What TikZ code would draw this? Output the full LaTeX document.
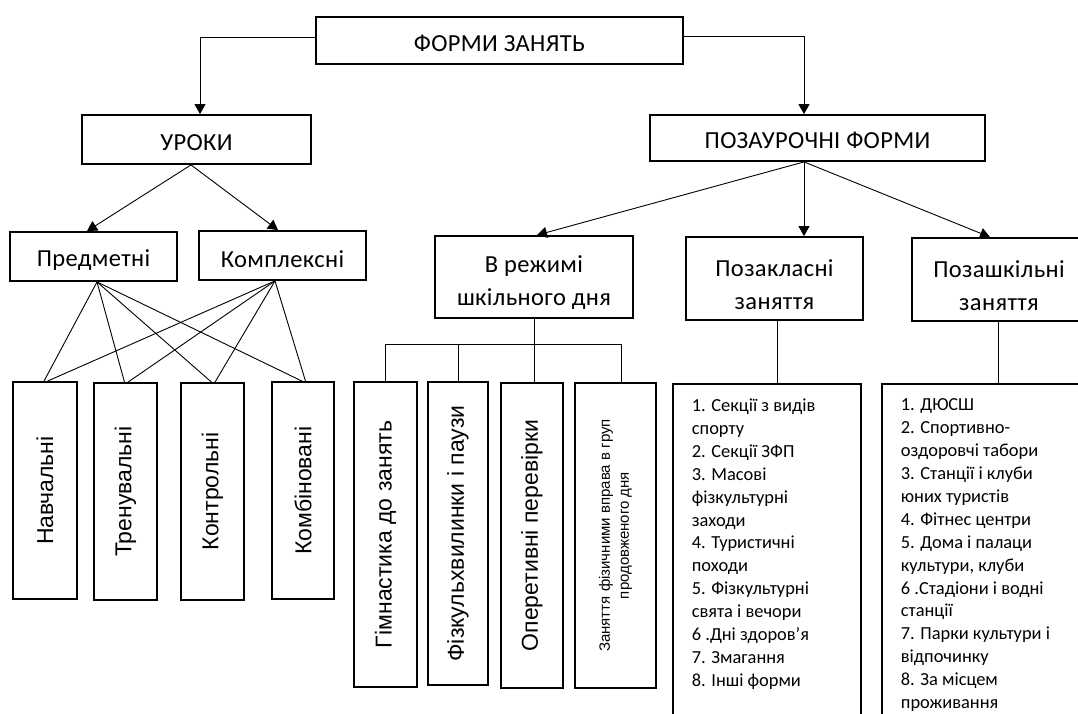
\documentclass[tikz,border=0pt]{standalone}
\usepackage{fontspec}
\setmainfont{Carlito}
\newfontfamily\labfont[LetterSpace=1.5]{Carlito}
\newfontfamily\arfont{Liberation Sans}
\usetikzlibrary{arrows.meta,calc}
\newcommand{\lowr}[1]{\rule{0pt}{#1}}
\begin{document}
\begin{tikzpicture}[x=1pt,y=-1pt,
  box/.style={draw,line width=1.8pt,inner sep=0pt,align=center},
  lab/.style={box,font=\labfont\fontsize{24.5}{33}\selectfont},
  vbox/.style={box,font=\arfont\fontsize{23}{27}\selectfont},
  listbox/.style={draw,line width=1.8pt,anchor=north west,inner xsep=19pt,inner ysep=15pt,
    font=\fontsize{18.4}{22.9}\selectfont},
  conn/.style={line width=0.9pt},
  arr/.style={conn,-{Triangle[length=10pt,width=11pt]}},
]
\useasboundingbox (0,0) rectangle (1078,713);
\fill[white] (0,0) rectangle (1078,713);

% top level
\node[lab,minimum width=367pt,minimum height=47pt] (forms) at (499.5,40.5) {\lowr{22pt}ФОРМИ ЗАНЯТЬ};
\node[lab,minimum width=229pt,minimum height=49pt] (uroky) at (196.5,139.5) {\lowr{22pt}УРОКИ};
\node[lab,minimum width=335pt,minimum height=46pt] (poz) at (817.5,138) {\lowr{22pt}ПОЗАУРОЧНІ ФОРМИ};

% second level
\node[lab,minimum width=167pt,minimum height=49pt] (predm) at (93.5,256.5) {\lowr{24pt}Предметні};
\node[lab,minimum width=167pt,minimum height=49pt] (kompl) at (282.5,255.5) {\lowr{24pt}Комплексні};
\node[lab,minimum width=198pt,minimum height=82pt] (rezhym) at (534,277) {\lowr{29pt}В режимі\\шкільного дня};
\node[lab,minimum width=177pt,minimum height=83pt] (pozakl) at (774.5,278.5) {\lowr{29pt}Позакласні\\заняття};
\node[lab,minimum width=174pt,minimum height=83pt] (pozashk) at (999,279.5) {\lowr{29pt}Позашкільні\\заняття};

% lesson types
\node[vbox,minimum width=64pt,minimum height=217pt] (nav) at (45,490.5) {\rotatebox{90}{Навчальні}};
\node[vbox,minimum width=63pt,minimum height=217pt] (tren) at (125.5,491.5) {\rotatebox{90}{Тренувальні}};
\node[vbox,minimum width=63pt,minimum height=217pt] (kontr) at (212.5,491.5) {\rotatebox{90}{Контрольні}};
\node[vbox,minimum width=62pt,minimum height=217pt] (komb) at (303,490.5) {\rotatebox{90}{Комбіновані}};

% school-day forms
\node[vbox,minimum width=63pt,minimum height=305pt] (gimn) at (385.5,534.5) {\rotatebox{90}{Гімнастика до занять}};
\node[vbox,minimum width=60pt,minimum height=303pt] (fizk) at (458,533.5) {\rotatebox{90}{Фізкульхвилинки і паузи}};
\node[vbox,minimum width=62pt,minimum height=305pt] (oper) at (532,535.5) {\rotatebox{90}{Оперетивні перевірки}};
\node[box,font=\arfont\fontsize{15}{19}\selectfont,minimum width=81pt,minimum height=305pt] (zan) at (615.5,535.5)
  {\rotatebox{90}{\parbox{290pt}{\centering Заняття фізичними вправа в груп\\продовженого дня}}};

% lists
\node[listbox] (list1) at (672,383) {\parbox[t][345pt][t]{150pt}{\raggedright
1. Секції з видів\\
спорту\\
2. Секції ЗФП\\
3. Масові\\
фізкультурні\\
заходи\\
4. Туристичні\\
походи\\
5. Фізкультурні\\
свята і вечори\\
6 .Дні здоров’я\\
7. Змагання\\
8. Інші форми}};
\node[listbox] (list2) at (881,383) {\parbox[t][345pt][t]{172pt}{\raggedright
1. ДЮСШ\\
2. Спортивно-\\
оздоровчі табори\\
3. Станції і клуби\\
юних туристів\\
4. Фітнес центри\\
5. Дома і палаци\\
культури, клуби\\
6 .Стадіони і водні\\
станції\\
7. Парки культури і\\
відпочинку\\
8. За місцем\\
проживання}};

% connectors
\draw[arr] ([yshift=3.5pt]forms.west) -| ([xshift=3.5pt]uroky.north);
\draw[arr] ([yshift=4.5pt]forms.east) -| ([xshift=-13.5pt]poz.north);

\draw[arr] ([xshift=-5.5pt]uroky.south) -- ([xshift=-6.5pt]predm.north);
\draw[arr] ([xshift=-5.5pt]uroky.south) -- ([xshift=-4.5pt]kompl.north);

\coordinate (pozc) at ([xshift=-13.5pt]poz.south);
\draw[arr] (pozc) -- ([xshift=3pt]rezhym.north);
\draw[arr] (pozc) -- (pozc |- pozakl.north);
\draw[arr] (pozc) -- ([xshift=-9pt]pozashk.north);

\foreach \t in {nav,tren,kontr,komb}{
  \draw[conn] ([xshift=3.5pt]predm.south) -- ([xshift=-1pt]\t.north);
  \draw[conn] ([xshift=-7.5pt]kompl.south) -- ([xshift=2.5pt]\t.north);
}

\draw[conn] (rezhym.south) -- (rezhym.south |- oper.north);
\draw[conn] (gimn.north) -- ++(0,-37) -| ([xshift=6pt]zan.north);
\draw[conn] (fizk.north) -- ++(0,-37);

\draw[conn] ([xshift=2.5pt]pozakl.south) -- ([xshift=2.5pt]pozakl.south |- list1.north);
\draw[conn] ([xshift=-1pt]pozashk.south) -- ([xshift=-1pt]pozashk.south |- list2.north);
\end{tikzpicture}
\end{document}
